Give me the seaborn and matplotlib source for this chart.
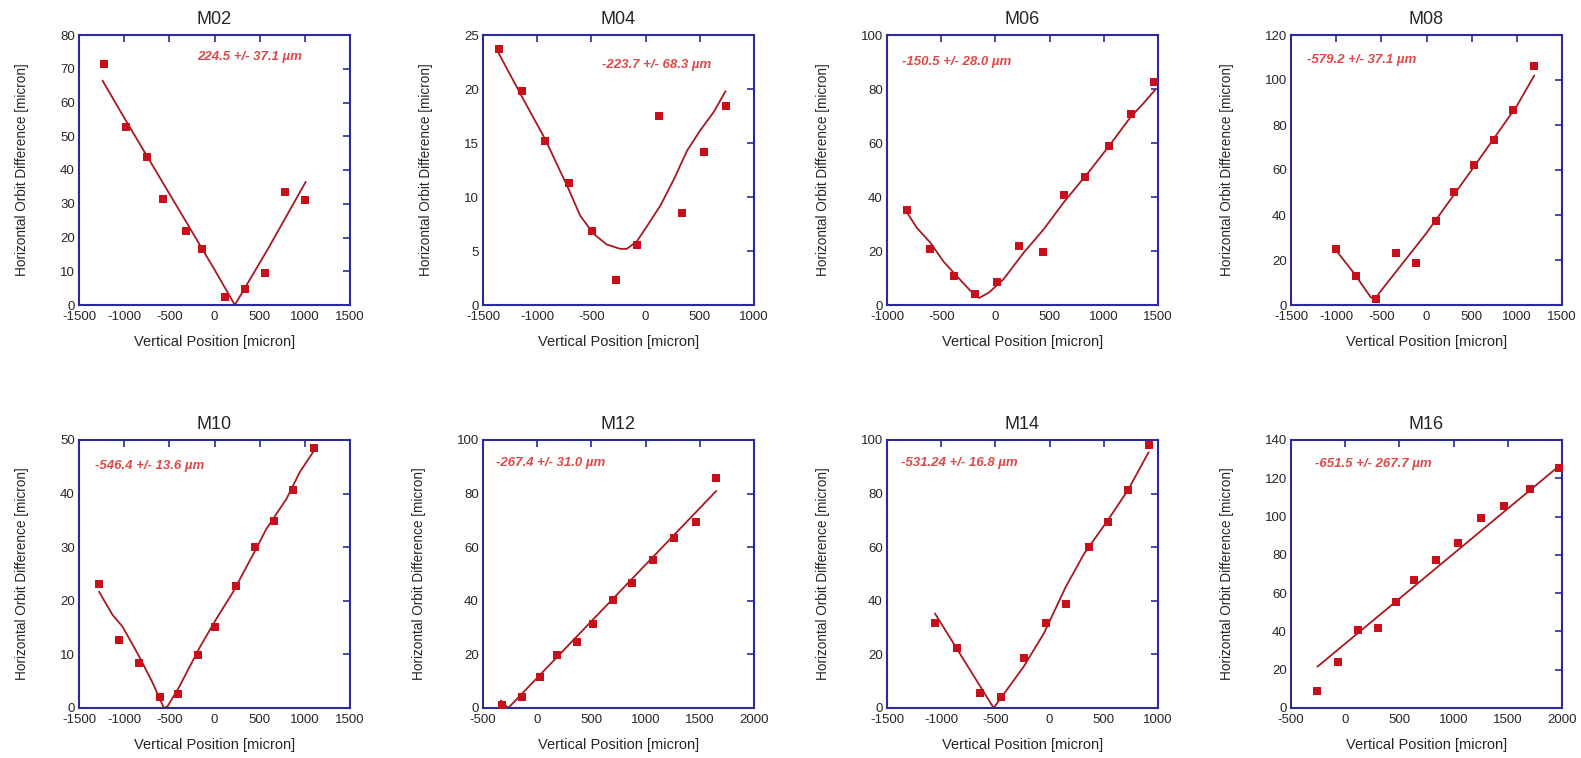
import matplotlib
matplotlib.use("Agg")
import matplotlib.pyplot as plt
import seaborn as sns
import pandas as pd
import numpy as np

# ---------------- data ----------------
titles = ["M02", "M04", "M06", "M08", "M10", "M12", "M14", "M16"]

m02_x = [-1220, -980, -751, -573, -320, -135, 117, 339, 561, 783, 1005]
m02_y = [71.5, 52.7, 43.8, 31.5, 22.0, 16.5, 2.3, 4.6, 9.4, 33.5, 31.0]
m02_fx = [-1240, -1000, -500, 0, 225, 600, 1010]
m02_fy = [66.5, 55.5, 33.0, 10.5, 0.0, 17.0, 36.5]

m04_x = [-1355, -1136, -929, -710, -490, -275, -75, 127, 332, 537, 742]
m04_y = [23.7, 19.8, 15.2, 11.3, 6.85, 2.35, 5.6, 17.5, 8.5, 14.2, 18.4]
m04_fx = [-1355, -1136, -929, -713, -605, -481, -358, -235, -173, -80, 13, 136, 259, 383, 506, 630, 738]
m04_fy = [23.3, 19.2, 15.4, 10.8, 8.3, 6.6, 5.6, 5.2, 5.2, 5.9, 7.3, 9.2, 11.6, 14.3, 16.2, 17.9, 19.8]

m06_x = [-815, -606, -385, -185, 15, 218, 440, 630, 827, 1048, 1251, 1460]
m06_y = [35.2, 20.7, 10.8, 4.1, 8.6, 21.9, 19.8, 40.6, 47.4, 59.0, 70.7, 82.7]
m06_fx = [-815, -723, -600, -477, -354, -231, -150, -60, 76, 261, 445, 630, 876, 1060, 1245, 1368, 1476]
m06_fy = [34.2, 28.5, 23.1, 16.0, 10.6, 5.3, 2.6, 4.6, 9.6, 19.4, 28.0, 38.0, 50.0, 59.5, 69.5, 74.8, 79.8]

m08_x = [-1005, -783, -558, -336, -115, 103, 306, 521, 746, 960, 1193]
m08_y = [24.8, 13.0, 2.7, 22.9, 18.5, 37.3, 50.2, 62.1, 73.5, 86.6, 106.3]
m08_fx = [-1005, -800, -620, -570, -520, 0, 500, 1000, 1193]
m08_fy = [24.5, 14.0, 3.6, 2.2, 5.5, 32.0, 60.0, 88.5, 102.0]

m10_x = [-1278, -1056, -833, -607, -407, -185, 11, 233, 444, 656, 870, 1100]
m10_y = [23.1, 12.7, 8.4, 2.0, 2.7, 9.9, 15.2, 22.8, 30.1, 34.8, 40.7, 48.6]
m10_fx = [-1278, -1130, -1019, -833, -685, -560, -520, -389, -167, 19, 204, 426, 574, 796, 944, 1093]
m10_fy = [21.7, 17.4, 15.2, 9.6, 4.7, 0.0, 0.3, 4.0, 11.2, 16.6, 21.6, 28.6, 33.4, 39.0, 44.0, 47.8]

m12_x = [-327, -142, 24, 187, 366, 517, 702, 874, 1072, 1260, 1467, 1652]
m12_y = [1.0, 4.0, 11.5, 19.7, 24.5, 31.2, 40.3, 46.8, 55.1, 63.6, 69.3, 86.0]
m12_fx = [-335, -267, 1652]
m12_fy = [2.8, 0.0, 81.0]

m14_x = [-1058, -857, -646, -448, -238, -36, 149, 360, 542, 727, 913]
m14_y = [31.8, 22.3, 5.6, 4.0, 18.6, 31.8, 38.7, 60.1, 69.4, 81.2, 98.1]
m14_fx = [-1058, -516, -238, -52, 149, 319, 536, 721, 913]
m14_fy = [35.3, 0.0, 15.5, 27.9, 45.2, 57.6, 70.0, 81.2, 95.4]

m16_x = [-256, -68, 117, 299, 472, 633, 840, 1043, 1250, 1466, 1707, 1969]
m16_y = [9.0, 24.0, 40.8, 42.0, 55.5, 66.9, 77.3, 86.4, 99.0, 105.4, 114.4, 125.3]
m16_fx = [-256, 1969]
m16_fy = [21.6, 126.2]

fit_labels = ["224.5 +/- 37.1 \u00b5m", "-223.7 +/- 68.3 \u00b5m", "-150.5 +/- 28.0 \u00b5m",
              "-579.2 +/- 37.1 \u00b5m", "-546.4 +/- 13.6 \u00b5m", "-267.4 +/- 31.0 \u00b5m",
              "-531.24 +/- 16.8 \u00b5m", "-651.5 +/- 267.7 \u00b5m"]
label_x = [-197, -404, -862, -1326, -1322, -383, -1375, -278]
label_y = [73.6, 22.2, 89.9, 109.0, 45.2, 91.4, 91.4, 127.5]

x_limits = [(-1500, 1500), (-1500, 1000), (-1000, 1500), (-1500, 1500),
            (-1500, 1500), (-500, 2000), (-1500, 1000), (-500, 2000)]
y_limits = [(0, 80), (0, 25), (0, 100), (0, 120), (0, 50), (0, 100), (0, 100), (0, 140)]
y_steps = [10, 5, 20, 20, 10, 20, 20, 20]
x_step = 500

points = [(m02_x, m02_y), (m04_x, m04_y), (m06_x, m06_y), (m08_x, m08_y),
          (m10_x, m10_y), (m12_x, m12_y), (m14_x, m14_y), (m16_x, m16_y)]
fits = [(m02_fx, m02_fy), (m04_fx, m04_fy), (m06_fx, m06_fy), (m08_fx, m08_fy),
        (m10_fx, m10_fy), (m12_fx, m12_fy), (m14_fx, m14_fy), (m16_fx, m16_fy)]

# ---------------- style ----------------
sns.set_style("white")
plt.rcParams['font.family'] = ['Liberation Sans', 'DejaVu Sans']
plt.rcParams['axes.unicode_minus'] = False

SPINE = "#2a2a9c"
MARK = "#c8101c"
LINE = "#a8181e"
TEXT = "#e04848"

fig = plt.figure(figsize=(15.81, 7.58), dpi=100)
W, H = 1581.0, 758.0
lefts = [79, 483, 887, 1291]
tops = [35, 440]
aw, ah = [271, 271], [270, 268]

for i in range(8):
    r, c = divmod(i, 4)
    ax = fig.add_axes([lefts[c] / W, 1 - (tops[r] + ah[r]) / H, aw[r] / W, ah[r] / H])
    px, py = points[i]
    fx, fy = fits[i]
    dfp = pd.DataFrame({"x": px, "y": py})
    dff = pd.DataFrame({"x": fx, "y": fy})
    sns.lineplot(data=dff, x="x", y="y", ax=ax, color=LINE, lw=1.3,
                 sort=False, estimator=None)
    sns.scatterplot(data=dfp, x="x", y="y", ax=ax, color=MARK, marker="s",
                    s=26, linewidth=0, zorder=3)
    ax.set_xlim(*x_limits[i])
    ax.set_ylim(*y_limits[i])
    ax.set_xticks(np.arange(x_limits[i][0], x_limits[i][1] + 1, x_step))
    ax.set_yticks(np.arange(y_limits[i][0], y_limits[i][1] + 0.01, y_steps[i]))
    ax.tick_params(direction="in", length=5, width=1.2, color=SPINE,
                   top=True, right=True, labelsize=9.5)
    ax.tick_params(axis="x", pad=4)
    ax.tick_params(axis="y", pad=3)
    for sp in ax.spines.values():
        sp.set_color(SPINE)
        sp.set_linewidth(1.5)
        sp.set_visible(True)
    ax.set_title(titles[i], fontsize=13, pad=8)
    ax.set_xlabel("Vertical Position [micron]", fontsize=10.5, labelpad=9)
    ax.set_ylabel("Horizontal Orbit Difference [micron]", fontsize=9.8, labelpad=22)
    ax.text(label_x[i], label_y[i], fit_labels[i], color=TEXT, fontsize=9.5,
            style="italic", fontweight="bold", va="center", ha="left")

fig.savefig("out.png", dpi=100)
